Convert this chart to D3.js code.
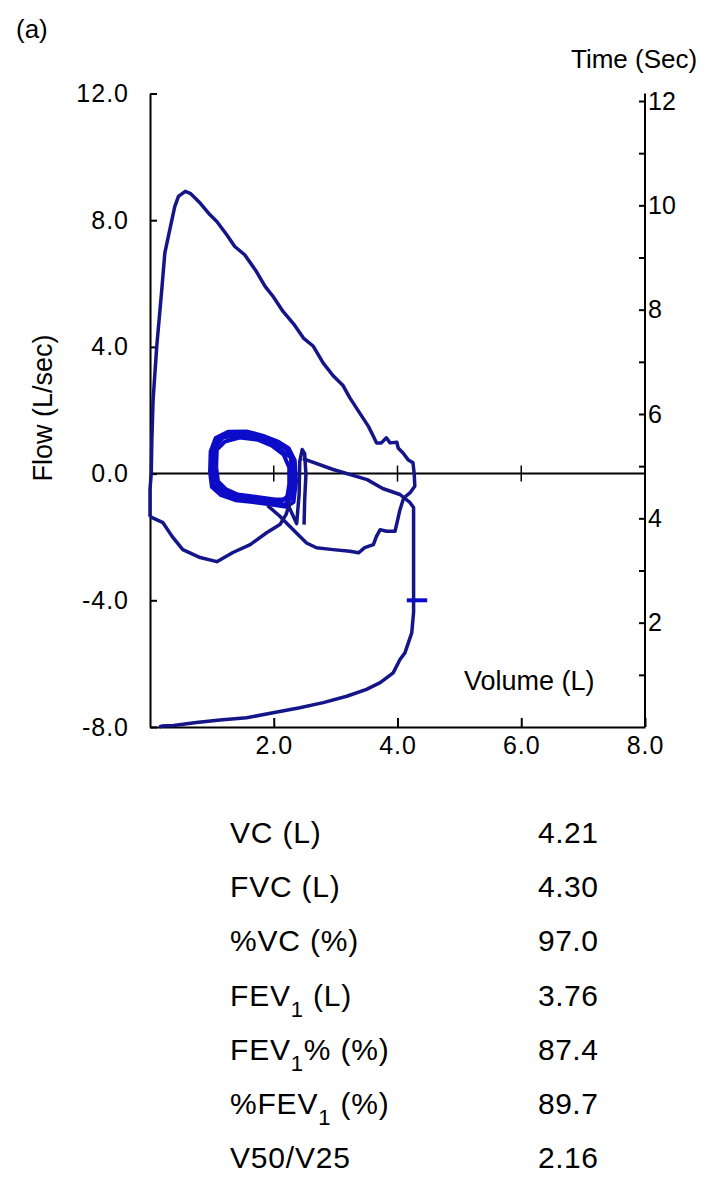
<!DOCTYPE html>
<html>
<head>
<meta charset="utf-8">
<script src="https://cdn.jsdelivr.net/npm/d3@7"></script>
<style>
  body { margin: 0; background: #fff; }
  text { font-family: Arial, "Liberation Sans", sans-serif; fill: #000; }
</style>
</head>
<body>
<div id="chart"></div>
<script>
(function () {
    // axis ticks
    var flowTicks = [12, 8, 4, 0, -4, -8];
    var volumeTicks = [2, 4, 6, 8];
    var zeroLineTicks = [2, 4, 6];
    var timeTicks = [1, 2, 3, 4, 5, 6, 7, 8, 9, 10, 11, 12];

    // [volume (L), flow (L/sec)]
    var inspToRV = [[2.26, -0.91], [2.20, -1.29], [2.10, -1.61], [1.89, -1.86], [1.62, -2.24],
        [1.34, -2.49], [1.08, -2.78], [0.81, -2.65], [0.53, -2.40], [0.36, -1.99],
        [0.21, -1.55], [0.00, -1.36]];

    var forcedExp = [[0.00, -1.36], [0.00, -0.50], [0.02, 0.00], [0.03, 1.07], [0.05, 2.33],
        [0.11, 4.04], [0.19, 5.80], [0.24, 6.97], [0.32, 7.70], [0.40, 8.43], [0.46, 8.75],
        [0.57, 8.91], [0.65, 8.85], [0.81, 8.54], [0.97, 8.17], [1.08, 7.96], [1.24, 7.54],
        [1.37, 7.17], [1.53, 6.91], [1.72, 6.38], [1.86, 5.91], [1.99, 5.59], [2.15, 5.12],
        [2.32, 4.73], [2.48, 4.28], [2.64, 4.02], [2.80, 3.49], [2.96, 3.09], [3.12, 2.78],
        [3.23, 2.39], [3.39, 1.91], [3.53, 1.49], [3.61, 1.18], [3.66, 0.97], [3.74, 0.97],
        [3.82, 1.13], [3.88, 0.97], [3.99, 0.99], [4.01, 0.81], [4.09, 0.65], [4.17, 0.44],
        [4.25, 0.34], [4.27, 0.00], [4.28, -0.40], [4.20, -0.61], [4.10, -0.77], [4.04, -1.14],
        [4.01, -1.40], [3.96, -1.82], [3.82, -1.82], [3.72, -1.77], [3.66, -1.98], [3.61, -2.24],
        [3.47, -2.34], [3.37, -2.50], [3.23, -2.45], [2.96, -2.40], [2.69, -2.34], [2.53, -2.19],
        [2.42, -1.98], [2.25, -1.65], [2.09, -1.33], [1.90, -1.01]];

    var tidalLoopA = [[1.00, 0.13], [1.00, 0.76], [1.10, 1.07], [1.29, 1.26], [1.53, 1.29],
        [1.78, 1.17], [2.02, 0.98], [2.21, 0.76], [2.31, 0.38], [2.33, -0.19], [2.29, -0.76],
        [2.18, -0.98], [1.94, -0.91], [1.62, -0.82], [1.37, -0.76], [1.16, -0.57], [1.03, -0.35],
        [1.00, 0.13]];
    var tidalLoopB = [[1.07, 0.19], [1.08, 0.76], [1.21, 1.01], [1.45, 1.14], [1.74, 1.07],
        [1.97, 0.88], [2.16, 0.60], [2.25, 0.19], [2.25, -0.35], [2.21, -0.82], [2.02, -0.82],
        [1.70, -0.73], [1.42, -0.66], [1.23, -0.50], [1.10, -0.25], [1.07, 0.19]];
    var tidalLoopC = [[1.03, 0.28], [1.05, 0.85], [1.18, 1.14], [1.42, 1.20], [1.65, 1.14],
        [1.91, 1.01], [2.10, 0.76], [2.28, 0.50], [2.28, -0.03], [2.26, -0.66], [2.10, -0.91],
        [1.81, -0.88], [1.52, -0.76], [1.29, -0.63], [1.11, -0.41], [1.03, -0.03], [1.03, 0.28]];
    var tidalLoopD = [[0.97, 0.05], [0.98, 0.70], [1.06, 1.12], [1.26, 1.32], [1.56, 1.33],
        [1.82, 1.20], [2.06, 1.02], [2.24, 0.80], [2.34, 0.42], [2.36, -0.25], [2.32, -0.90],
        [2.20, -1.05], [1.96, -0.98], [1.66, -0.90], [1.38, -0.84], [1.15, -0.68], [1.00, -0.42],
        [0.97, 0.05]];

    var thinLoop = [[2.23, -0.98], [2.37, -1.58], [2.41, -0.66], [2.42, 0.38], [2.46, 0.76],
        [2.50, 0.63], [2.52, -0.03], [2.50, -0.82], [2.49, -1.61]];

    var forcedInsp = [[2.47, 0.47], [2.96, 0.13], [3.51, -0.19], [3.76, -0.47], [4.04, -0.66],
        [4.20, -0.91], [4.26, -1.07], [4.26, -2.71], [4.26, -4.38], [4.23, -5.03], [4.12, -5.66],
        [4.04, -5.87], [3.93, -6.29], [3.72, -6.60], [3.50, -6.81], [3.18, -7.03], [2.80, -7.23],
        [2.42, -7.39], [1.99, -7.55], [1.56, -7.71], [1.13, -7.78], [0.75, -7.86], [0.38, -7.95],
        [0.19, -7.97], [0.15, -8.00]];

    // the "+" mark on the inspiratory limb
    var markVolume = [4.15, 4.48];
    var markFlow = -4.0;

    // results table
    var tableLabels = ["VC (L)", "FVC (L)", "%VC (%)", "FEV_1 (L)", "FEV_1% (%)", "%FEV_1 (%)", "V50/V25"];
    var tableValues = ["4.21", "4.30", "97.0", "3.76", "87.4", "89.7", "2.16"];

    var width = 709, height = 1177;
    var traceColor = "#15158a", tidalColor = "#0c0cc8";

    var svg = d3.select("#chart").append("svg")
        .attr("width", width)
        .attr("height", height)
        .style("background", "#fff");

    var x = d3.scaleLinear().domain([0, 8]).range([150, 645]);
    var y = d3.scaleLinear().domain([-8, 12]).range([727, 93.5]);
    var t = d3.scaleLinear().domain([0, 12]).range([727, 101]);

    function styleAxis(g, size, spacing) {
        g.attr("font-size", size).attr("font-family", "Arial, 'Liberation Sans', sans-serif");
        g.selectAll("path, line").attr("stroke", "#000").attr("stroke-width", 2);
        g.selectAll("text").attr("fill", "#000").attr("letter-spacing", spacing || 0);
    }

    // left flow axis
    svg.append("g")
        .attr("transform", "translate(" + x(0) + ",0)")
        .call(d3.axisLeft(y).tickValues(flowTicks)
            .tickFormat(function (d) { return d.toFixed(1); })
            .tickSizeInner(-7).tickSizeOuter(0).tickPadding(21))
        .call(styleAxis, 25, 1);

    // bottom volume axis
    svg.append("g")
        .attr("transform", "translate(0," + y(-8) + ")")
        .call(d3.axisBottom(x).tickValues(volumeTicks)
            .tickFormat(function (d) { return d.toFixed(1); })
            .tickSizeInner(-9).tickSizeOuter(0).tickPadding(9))
        .call(styleAxis, 25, 1);

    // right time axis
    var rightAxis = svg.append("g")
        .attr("transform", "translate(" + x(8) + ",0)")
        .call(d3.axisRight(t).tickValues(timeTicks)
            .tickFormat(function (d) { return d % 2 === 0 ? d : ""; })
            .tickSizeInner(-6).tickSizeOuter(0).tickPadding(3))
        .call(styleAxis, 25, 0);
    rightAxis.select(".domain").remove();
    svg.append("line")
        .attr("x1", x(8)).attr("x2", x(8))
        .attr("y1", y(12)).attr("y2", y(-8))
        .attr("stroke", "#000").attr("stroke-width", 2);

    // zero flow line with crossing ticks
    svg.append("line")
        .attr("x1", x(0)).attr("x2", x(8))
        .attr("y1", y(0)).attr("y2", y(0))
        .attr("stroke", "#000").attr("stroke-width", 2);
    svg.selectAll(".zero-tick")
        .data(zeroLineTicks)
        .enter().append("line")
        .attr("class", "zero-tick")
        .attr("x1", function (d) { return x(d); })
        .attr("x2", function (d) { return x(d); })
        .attr("y1", y(0) - 8).attr("y2", y(0) + 8)
        .attr("stroke", "#000").attr("stroke-width", 1.5);

    // traces
    var line = d3.line()
        .x(function (d) { return x(d[0]); })
        .y(function (d) { return y(d[1]); });

    [tidalLoopD, tidalLoopA, tidalLoopB, tidalLoopC].forEach(function (loop) {
        svg.append("path")
            .attr("d", line(loop))
            .attr("fill", "none")
            .attr("stroke", tidalColor)
            .attr("stroke-width", 4)
            .attr("stroke-linejoin", "round");
    });

    [inspToRV, forcedExp, thinLoop, forcedInsp].forEach(function (seg) {
        svg.append("path")
            .attr("d", line(seg))
            .attr("fill", "none")
            .attr("stroke", traceColor)
            .attr("stroke-width", 3.5)
            .attr("stroke-linejoin", "round");
    });

    svg.append("line")
        .attr("x1", x(markVolume[0])).attr("x2", x(markVolume[1]))
        .attr("y1", y(markFlow)).attr("y2", y(markFlow))
        .attr("stroke", tidalColor).attr("stroke-width", 4);

    // titles
    svg.append("text").attr("x", 16).attr("y", 38).attr("font-size", 26).text("(a)");
    svg.append("text").attr("x", 571).attr("y", 68).attr("font-size", 26).text("Time (Sec)");
    svg.append("text").attr("x", 464).attr("y", 690).attr("font-size", 27).text("Volume (L)");
    svg.append("text")
        .attr("transform", "translate(52,408) rotate(-90)")
        .attr("text-anchor", "middle")
        .attr("font-size", 27)
        .text("Flow (L/sec)");

    // table of results
    var rowY = d3.scalePoint().domain(d3.range(tableLabels.length)).range([843, 1168]);
    var rows = svg.selectAll(".row")
        .data(tableLabels)
        .enter().append("g")
        .attr("class", "row")
        .attr("transform", function (d, i) { return "translate(0," + rowY(i) + ")"; });

    rows.append("text")
        .attr("x", 230)
        .attr("font-size", 30)
        .attr("letter-spacing", 0.8)
        .each(function (d) {
            var el = d3.select(this);
            var parts = d.split("_1");
            el.append("tspan").text(parts[0]);
            if (parts.length > 1) {
                el.append("tspan").attr("dy", 11).attr("font-size", 22).text("1");
                el.append("tspan").attr("dy", -11).text(parts[1]);
            }
        });

    rows.append("text")
        .attr("x", 538)
        .attr("font-size", 30)
        .attr("letter-spacing", 0.5)
        .text(function (d, i) { return tableValues[i]; });
})();
</script>
</body>
</html>
